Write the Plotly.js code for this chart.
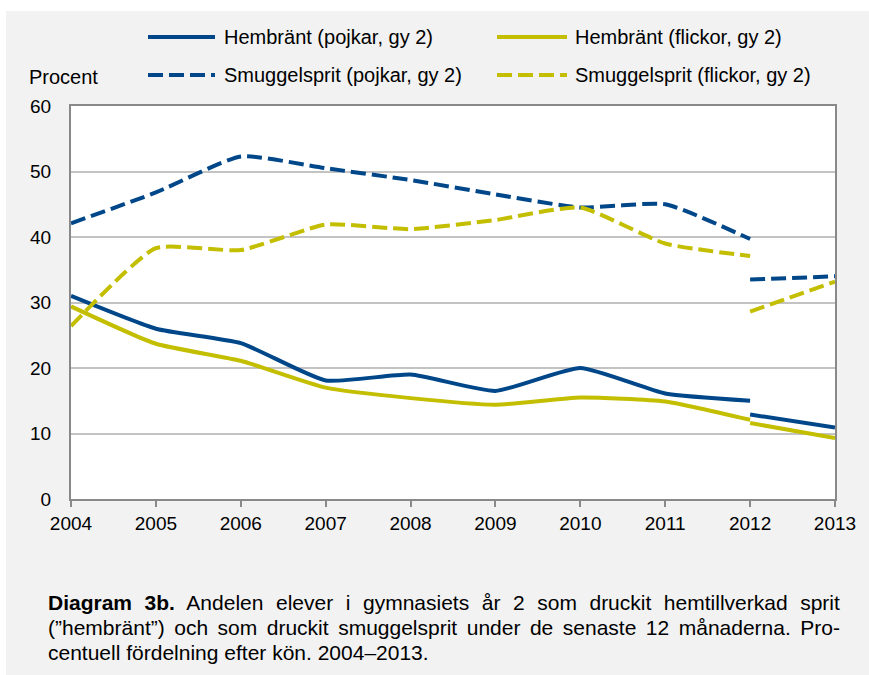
<!DOCTYPE html>
<html>
<head>
<meta charset="utf-8">
<script src="https://cdn.plot.ly/plotly-3.0.1.min.js"></script>
<style>
  html, body { margin: 0; padding: 0; background: #ffffff; }
  #chart { position: absolute; left: 6px; top: 11px; width: 863px; height: 664px; }
</style>
</head>
<body>
<div id="chart"></div>
<script>
// ---- Data ----
const years = [2004, 2005, 2006, 2007, 2008, 2009, 2010, 2011, 2012];
const yearsNew = [2012, 2013];
const tickYears = [2004, 2005, 2006, 2007, 2008, 2009, 2010, 2011, 2012, 2013];

const hembrantPojkar = [31.0, 26.0, 23.8, 18.1, 19.0, 16.5, 20.0, 16.1, 15.0];
const hembrantPojkarNew = [12.9, 10.9];
const hembrantFlickor = [29.4, 23.7, 21.1, 17.0, 15.4, 14.4, 15.5, 14.9, 12.1];
const hembrantFlickorNew = [11.6, 9.3];
const smuggelPojkar = [42.1, 46.8, 52.3, 50.5, 48.7, 46.5, 44.5, 45.0, 39.7];
const smuggelPojkarNew = [33.5, 34.0];
const smuggelFlickor = [26.4, 38.3, 38.0, 41.9, 41.2, 42.6, 44.5, 39.0, 37.1];
const smuggelFlickorNew = [28.6, 33.2];

const names = [
  "Hembränt (pojkar, gy 2)",
  "Hembränt (flickor, gy 2)",
  "Smuggelsprit (pojkar, gy 2)",
  "Smuggelsprit (flickor, gy 2)"
];

const BLUE = "#00478a";
const YELLOW = "#c3be00";
const DASH = "15px,6px";

function series(oldVals, newVals, color, dash, name) {
  return {
    type: "scatter",
    mode: "lines",
    name: name,
    x: years.concat([2012], yearsNew),
    y: oldVals.concat([null], newVals),
    connectgaps: false,
    line: { color: color, width: 4, dash: dash, shape: "spline", smoothing: 0.5 },
    cliponaxis: false,
    showlegend: false,
    hoverinfo: "x+y+name"
  };
}

const traces = [
  series(hembrantPojkar, hembrantPojkarNew, BLUE, "solid", names[0]),
  series(hembrantFlickor, hembrantFlickorNew, YELLOW, "solid", names[1]),
  series(smuggelPojkar, smuggelPojkarNew, BLUE, DASH, names[2]),
  series(smuggelFlickor, smuggelFlickorNew, YELLOW, DASH, names[3])
];

// ---- Layout helpers: page pixel -> paper coords ----
const PL = 71, PR = 835, PT = 106, PB = 499;
const px = x => (x - PL) / (PR - PL);
const py = y => (PB - y) / (PB - PT);

const FONT = "Liberation Sans, Arial, sans-serif";

const legendItems = [
  { x0: 148, x1: 215, tx: 222, y: 37, color: BLUE, dash: "solid", name: names[0] },
  { x0: 497, x1: 567, tx: 573, y: 37, color: YELLOW, dash: "solid", name: names[1] },
  { x0: 148, x1: 215, tx: 222, y: 75, color: BLUE, dash: DASH, name: names[2] },
  { x0: 497, x1: 567, tx: 573, y: 75, color: YELLOW, dash: DASH, name: names[3] }
];

const shapes = legendItems.map(it => ({
  type: "line", xref: "paper", yref: "paper",
  x0: px(it.x0), x1: px(it.x1), y0: py(it.y), y1: py(it.y),
  line: { color: it.color, width: 4, dash: it.dash }
}));

const annotations = legendItems.map(it => ({
  xref: "paper", yref: "paper", x: px(it.tx), y: py(it.y),
  xanchor: "left", yanchor: "middle", showarrow: false,
  text: it.name, font: { family: FONT, size: 20, color: "#000" }
}));

annotations.push({
  xref: "paper", yref: "paper", x: px(27), y: py(77),
  xanchor: "left", yanchor: "middle", showarrow: false,
  text: "Procent", font: { family: FONT, size: 20, color: "#000" }
});

const captionLines = [
  "<b>Diagram 3b.</b> Andelen elever i gymnasiets år 2 som druckit hemtillverkad sprit",
  "(”hembränt”) och som druckit smuggelsprit under de senaste 12 månaderna. Pro-",
  "centuell fördelning efter kön. 2004–2013."
];
const captionY = [602, 627, 652];
const captionJustify = [true, true, false];
const CAPTION_RIGHT = 840;
const captionStart = annotations.length;
captionLines.forEach((t, i) => {
  annotations.push({
    xref: "paper", yref: "paper", x: px(46), y: py(captionY[i]),
    xanchor: "left", yanchor: "middle", showarrow: false,
    text: t, font: { family: FONT, size: 21, color: "#000" }
  });
});

const layout = {
  width: 863, height: 664,
  paper_bgcolor: "#f2f2f2",
  plot_bgcolor: "#ffffff",
  margin: { l: 65, r: 34, t: 95, b: 176, pad: 0 },
  showlegend: false,
  font: { family: FONT, size: 19, color: "#000" },
  xaxis: {
    range: [2004, 2013],
    tickvals: tickYears,
    ticktext: tickYears.map(String),
    ticks: "outside", ticklen: 6, tickwidth: 2, tickcolor: "#898989",
    showgrid: false, zeroline: false,
    showline: true, linecolor: "#898989", linewidth: 2, mirror: true,
    tickfont: { family: FONT, size: 19, color: "#000" }
  },
  yaxis: {
    range: [0, 60], dtick: 10, tick0: 0,
    ticks: "", ticklabelstandoff: 14,
    showgrid: true, gridcolor: "#c3c3c3", gridwidth: 2,
    zeroline: false,
    showline: true, linecolor: "#898989", linewidth: 2, mirror: true,
    tickfont: { family: FONT, size: 19, color: "#000" }
  },
  shapes: shapes,
  annotations: annotations
};

Plotly.newPlot("chart", traces, layout, { staticPlot: true, displayModeBar: false }).then(gd => {
  // justify the caption lines like the original text block
  const texts = gd.querySelectorAll(".annotation .annotation-text");
  captionLines.forEach((t, i) => {
    if (!captionJustify[i]) return;
    const el = texts[captionStart + i];
    if (!el) return;
    const r0 = el.getBoundingClientRect();
    const gaps = (el.textContent.match(/ /g) || []).length;
    const extra = (CAPTION_RIGHT - r0.left) - r0.width;
    if (gaps > 0 && extra > 0) {
      el.style.wordSpacing = (extra / gaps) + "px";
      const r1 = el.getBoundingClientRect();
      const dx = r0.left - r1.left;
      const prev = el.getAttribute("transform") || "";
      el.setAttribute("transform", (prev + " translate(" + dx + ",0)").trim());
    }
  });
});
</script>
</body>
</html>
